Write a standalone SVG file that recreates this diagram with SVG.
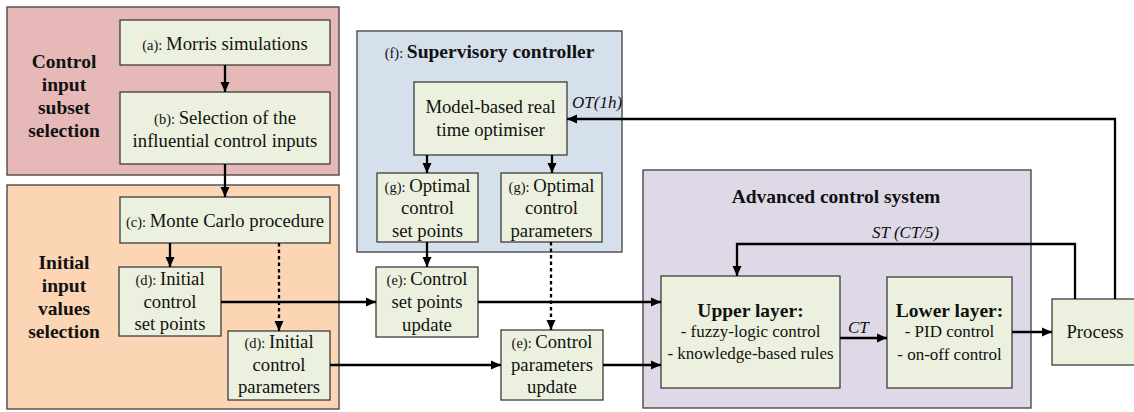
<svg xmlns="http://www.w3.org/2000/svg" width="1134" height="412" viewBox="0 0 1134 412">
<defs>
<style>
.panel{stroke:#4a4a4a;stroke-width:1.4}
.box{fill:#ebf1de;stroke:#3c3c3c;stroke-width:1.3}
.t{font-family:"Liberation Serif","Times New Roman",serif;font-size:18.7px;fill:#111;text-anchor:middle}
.s{font-size:14.5px}
.b{font-family:"Liberation Serif","Times New Roman",serif;font-weight:bold;font-size:19.5px;fill:#111;text-anchor:middle}
.sub{font-family:"Liberation Serif","Times New Roman",serif;font-size:17px;fill:#111;text-anchor:middle}
.it{font-family:"Liberation Serif","Times New Roman",serif;font-style:italic;font-size:17px;fill:#111}
.c{fill:none;stroke:#000;stroke-width:2.3}
.d{stroke-dasharray:3.5 3}
</style>
<marker id="ah" viewBox="0 0 10 10" refX="10" refY="5" markerWidth="10" markerHeight="10" markerUnits="userSpaceOnUse" orient="auto">
<path d="M0,0.5 L10,5 L0,9.5 Z" fill="#000"/>
</marker>
</defs>
<rect width="1134" height="412" fill="#fff"/>

<g id="panel-subset">
<rect class="panel" x="7" y="7" width="332" height="168" fill="#e6b9b8"/>
<text class="b"><tspan x="64" y="68">Control</tspan><tspan x="64" y="91">input</tspan><tspan x="64" y="114">subset</tspan><tspan x="64" y="137">selection</tspan></text>
</g>
<g id="panel-initial">
<rect class="panel" x="7" y="185" width="332" height="224" fill="#fcd5b5"/>
<text class="b"><tspan x="64" y="269">Initial</tspan><tspan x="64" y="292">input</tspan><tspan x="64" y="315">values</tspan><tspan x="64" y="338">selection</tspan></text>
</g>
<g id="panel-supervisory">
<rect class="panel" x="357" y="31" width="265" height="221" fill="#d6e0ed"/>
<text class="t" x="489.5" y="58"><tspan class="s">(f): </tspan><tspan font-weight="bold" font-size="19.5px">Supervisory controller</tspan></text>
</g>
<g id="panel-advanced">
<rect class="panel" x="643" y="170" width="388" height="238" fill="#dfd8e7"/>
<text class="b" x="836" y="203">Advanced control system</text>
</g>

<g id="node-a">
<rect class="box" x="120" y="20" width="210" height="45"/>
<text class="t" x="225" y="50"><tspan class="s">(a): </tspan>Morris simulations</text>
</g>
<g id="node-b">
<rect class="box" x="120" y="92" width="210" height="72"/>
<text class="t"><tspan x="225" y="124"><tspan class="s">(b): </tspan>Selection of the</tspan><tspan x="225" y="147">influential control inputs</tspan></text>
</g>
<g id="node-c">
<rect class="box" x="120" y="197" width="210" height="46"/>
<text class="t" x="225" y="227"><tspan class="s">(c): </tspan>Monte Carlo procedure</text>
</g>
<g id="node-d1">
<rect class="box" x="119" y="267" width="102" height="69"/>
<text class="t"><tspan x="170" y="285"><tspan class="s">(d): </tspan>Initial</tspan><tspan x="170" y="308">control</tspan><tspan x="170" y="330">set points</tspan></text>
</g>
<g id="node-d2">
<rect class="box" x="228" y="331" width="102" height="69"/>
<text class="t"><tspan x="279" y="348"><tspan class="s">(d): </tspan>Initial</tspan><tspan x="279" y="371">control</tspan><tspan x="279" y="393">parameters</tspan></text>
</g>
<g id="node-model">
<rect class="box" x="414" y="82" width="153" height="73"/>
<text class="t"><tspan x="490.5" y="113">Model-based real</tspan><tspan x="490.5" y="136">time optimiser</tspan></text>
</g>
<g id="node-g1">
<rect class="box" x="377" y="173" width="101" height="69"/>
<text class="t"><tspan x="427.5" y="192"><tspan class="s">(g): </tspan>Optimal</tspan><tspan x="427.5" y="214">control</tspan><tspan x="427.5" y="237">set points</tspan></text>
</g>
<g id="node-g2">
<rect class="box" x="501" y="173" width="101" height="69"/>
<text class="t"><tspan x="551.5" y="192"><tspan class="s">(g): </tspan>Optimal</tspan><tspan x="551.5" y="214">control</tspan><tspan x="551.5" y="237">parameters</tspan></text>
</g>
<g id="node-e1">
<rect class="box" x="376" y="267" width="102" height="70"/>
<text class="t"><tspan x="427" y="285"><tspan class="s">(e): </tspan>Control</tspan><tspan x="427" y="308">set points</tspan><tspan x="427" y="331">update</tspan></text>
</g>
<g id="node-e2">
<rect class="box" x="501" y="330" width="102" height="70"/>
<text class="t"><tspan x="552" y="348"><tspan class="s">(e): </tspan>Control</tspan><tspan x="552" y="371">parameters</tspan><tspan x="552" y="393">update</tspan></text>
</g>
<g id="node-upper">
<rect class="box" x="661" y="276" width="179" height="112"/>
<text class="b" x="750.5" y="317">Upper layer:</text>
<text class="sub"><tspan x="750.5" y="337">- fuzzy-logic control</tspan><tspan x="750.5" y="359">- knowledge-based rules</tspan></text>
</g>
<g id="node-lower">
<rect class="box" x="887" y="277" width="125" height="111"/>
<text class="b" x="949.5" y="317">Lower layer:</text>
<text class="sub"><tspan x="949.5" y="337">- PID control</tspan><tspan x="949.5" y="360">- on-off control</tspan></text>
</g>
<g id="node-process">
<rect class="box" x="1052" y="299" width="90" height="66"/>
<text class="t" x="1095" y="338">Process</text>
</g>

<g id="connectors">
<path class="c" d="M225,65 V92" marker-end="url(#ah)"/>
<path class="c" d="M225,164 V197" marker-end="url(#ah)"/>
<path class="c" d="M170,243 V267" marker-end="url(#ah)"/>
<path class="c d" d="M279,243 V331" marker-end="url(#ah)"/>
<path class="c" d="M221,302 H376" marker-end="url(#ah)"/>
<path class="c" d="M330,365 H501" marker-end="url(#ah)"/>
<path class="c" d="M427,155 V173" marker-end="url(#ah)"/>
<path class="c" d="M552,155 V173" marker-end="url(#ah)"/>
<path class="c" d="M427,242 V267" marker-end="url(#ah)"/>
<path class="c d" d="M551,242 V330" marker-end="url(#ah)"/>
<path class="c" d="M478,302 H661" marker-end="url(#ah)"/>
<path class="c" d="M603,365 H661" marker-end="url(#ah)"/>
<path class="c" d="M840,338 H887" marker-end="url(#ah)"/>
<path class="c" d="M1012,332 H1052" marker-end="url(#ah)"/>
<path class="c" d="M1075,299 V244 H737 V276" marker-end="url(#ah)"/>
<path class="c" d="M1115,299 V119 H567" marker-end="url(#ah)"/>
<text class="it" x="572" y="108">OT(1h)</text>
<text class="it" x="872" y="238">ST (CT/5)</text>
<text class="it" x="848" y="333">CT</text>
</g>
</svg>
